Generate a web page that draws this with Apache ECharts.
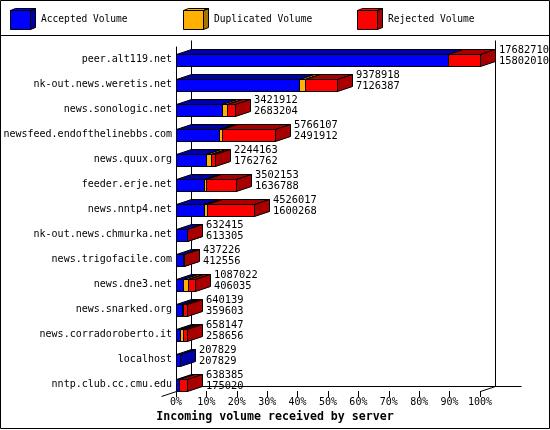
<!DOCTYPE html>
<html><head><meta charset="utf-8">
<script src="https://cdn.jsdelivr.net/npm/echarts@6/dist/echarts.min.js"></script>
<style>html,body{margin:0;padding:0;background:#fff}#c{width:550px;height:430px}</style>
</head><body><div id="c"></div><script>
const servers = ['peer.alt119.net','nk-out.news.weretis.net','news.sonologic.net','newsfeed.endofthelinebbs.com','news.quux.org','feeder.erje.net','news.nntp4.net','nk-out.news.chmurka.net','news.trigofacile.com','news.dne3.net','news.snarked.org','news.corradoroberto.it','localhost','nntp.club.cc.cmu.edu'];
const totals = [17682710, 9378918, 3421912, 5766107, 2244163, 3502153, 4526017, 632415, 437226, 1087022, 640139, 658147, 207829, 638385];
const accepted = [15802010, 7126387, 2683204, 2491912, 1762762, 1636788, 1600268, 613305, 412556, 406035, 359603, 258656, 207829, 175020];
const duplicated = [0, 350000, 290000, 200000, 290000, 120000, 200000, 0, 0, 290000, 60000, 170000, 0, 20000];
const rejected = [1880700, 1902531, 448708, 3074195, 191401, 1745365, 2725749, 19110, 24670, 390987, 220536, 229491, 0, 443365];
const percentTicks = [0, 10, 20, 30, 40, 50, 60, 70, 80, 90, 100];
const seriesNames = ['Accepted Volume', 'Duplicated Volume', 'Rejected Volume'];

const FONT = '"DejaVu Sans Mono", "Liberation Mono", monospace';
const maxTotal = Math.max(...totals);
const pct = v => v / maxTotal * 100;
const DX = 15, DY = -5;
const C = v => Math.round(v) + 0.5;
const PAL = [['#0000FF', '#0000A8'], ['#FFB000', '#A87400'], ['#FF0000', '#A80000']];

const accData = servers.map((s, i) => [i, 0, pct(accepted[i])]);
const dupData = servers.map((s, i) => [i, pct(accepted[i]), pct(accepted[i] + duplicated[i])]);
const rejData = servers.map((s, i) => [i, pct(accepted[i] + duplicated[i]), pct(accepted[i] + duplicated[i] + rejected[i])]);

function makeRender(colors, withLabel) {
  return function (params, api) {
    const cat = api.value(0), s = api.value(1), e = api.value(2);
    const p0 = api.coord([s, cat]), p1 = api.coord([e, cat]);
    const band = api.size([0, 1])[1];
    const h = band * 0.48;
    const yT = C(p0[1] - h / 2), yB = C(p0[1] + h / 2);
    const x0 = C(p0[0]), x1 = C(p1[0]);
    const st = { stroke: '#000', lineWidth: 1 };
    const children = [];
    if (e > s) {
      children.push({ type: 'polygon', shape: { points: [[x0, yT], [x0 + DX, yT + DY], [x1 + DX, yT + DY], [x1, yT]] }, style: Object.assign({ fill: colors[1] }, st) });
      children.push({ type: 'polygon', shape: { points: [[x1, yT], [x1 + DX, yT + DY], [x1 + DX, yB + DY], [x1, yB]] }, style: Object.assign({ fill: colors[1] }, st) });
      children.push({ type: 'rect', shape: { x: x0, y: yT, width: x1 - x0, height: yB - yT }, style: Object.assign({ fill: colors[0] }, st) });
    }
    if (withLabel) {
      const idx = params.dataIndex;
      children.push({ type: 'text', x: Math.round(p1[0] + DX + 4), y: p0[1] - 3.6,
        style: { text: totals[idx] + '\n' + accepted[idx], fill: '#000', font: '10.4px ' + FONT, verticalAlign: 'middle', align: 'left', lineHeight: 11 } });
    }
    return { type: 'group', children: children };
  };
}

function renderFrame(params, api) {
  const n = servers.length;
  const a = api.coord([0, 0]), b = api.coord([100, n - 1]);
  const band = api.size([0, 1])[1];
  const top = C(a[1] - band / 2 - 7);
  const floorF = C(b[1] + band / 2 - 6);
  const floorB = floorF + DY;
  const xl = C(a[0]), xr = C(b[0]);
  const st = { stroke: '#000', lineWidth: 1 };
  const seg = (x1, y1, x2, y2) => ({ type: 'line', shape: { x1, y1, x2, y2 }, style: st });
  return { type: 'group', children: [
    seg(xl + DX, top, xl + DX, floorB),
    seg(xr + DX, top, xr + DX, floorB),
    seg(xl + DX, floorB, xr + DX + 26, floorB),
    seg(xl - DX, floorF - DY, xl + DX, floorB),
    seg(xr, floorF, xr + DX, floorB)
  ] };
}

const iconPath = 'path://M0,2 L20,2 L20,21 L0,21 Z M0,2 L5,0 L25,0 L20,2 Z M20,2 L25,0 L25,19 L20,21 Z';
function grad(c) {
  return new echarts.graphic.LinearGradient(0, 0, 1, 0, [
    { offset: 0, color: c[0] }, { offset: 0.8, color: c[0] }, { offset: 0.801, color: c[1] }, { offset: 1, color: c[1] }]);
}
const legendLefts = [10, 183, 357];
const legends = seriesNames.map((nm, i) => ({
  left: legendLefts[i], top: 8, padding: 0, orient: 'horizontal', selectedMode: false,
  itemWidth: 26, itemHeight: 21, itemGap: 0,
  textStyle: { fontFamily: FONT, fontSize: 9.6, color: '#000' },
  data: [{ name: nm, icon: iconPath, itemStyle: { color: grad(PAL[i]), borderColor: '#000', borderWidth: 1 } }]
}));

const chart = echarts.init(document.getElementById('c'), null, { renderer: 'canvas' });
chart.setOption({
  animation: false,
  backgroundColor: '#fff',
  title: { text: 'Incoming volume received by server', left: 'center', top: 411, padding: 0,
    textStyle: { fontFamily: FONT, fontWeight: 'bold', fontSize: 11.6, color: '#000' } },
  legend: legends,
  graphic: [
    { type: 'rect', silent: true, shape: { x: 0.5, y: 0.5, width: 549, height: 428 }, style: { fill: null, stroke: '#000', lineWidth: 1 } },
    { type: 'line', silent: true, shape: { x1: 0, y1: 35.5, x2: 550, y2: 35.5 }, style: { stroke: '#000', lineWidth: 1 } }
  ],
  grid: { left: 176, right: 70, top: 47, bottom: 33, containLabel: false },
  xAxis: {
    type: 'value', min: percentTicks[0], max: percentTicks[percentTicks.length - 1], interval: 10,
    offset: -6,
    axisLine: { show: false },
    axisTick: { show: true, length: 6, lineStyle: { color: '#000', width: 1 } },
    splitLine: { show: false },
    axisLabel: { formatter: '{value}%', margin: 6, fontFamily: FONT, fontSize: 10, color: '#000' }
  },
  yAxis: {
    type: 'category', inverse: true, data: servers,
    axisLine: { show: true, lineStyle: { color: '#000', width: 1 } },
    axisTick: { show: false },
    axisLabel: { margin: 4, fontFamily: FONT, fontSize: 10, color: '#000' }
  },
  series: [
    { type: 'custom', name: 'frame', renderItem: renderFrame, data: [[0, 0, 0]], encode: { x: 1, y: 0 }, silent: true },
    { type: 'custom', name: seriesNames[0], renderItem: makeRender(PAL[0], false), data: accData, encode: { x: [1, 2], y: 0 }, itemStyle: { color: PAL[0][0] } },
    { type: 'custom', name: seriesNames[1], renderItem: makeRender(PAL[1], false), data: dupData, encode: { x: [1, 2], y: 0 }, itemStyle: { color: PAL[1][0] } },
    { type: 'custom', name: seriesNames[2], renderItem: makeRender(PAL[2], true), data: rejData, encode: { x: [1, 2], y: 0 }, itemStyle: { color: PAL[2][0] } }
  ]
});
</script></body></html>
